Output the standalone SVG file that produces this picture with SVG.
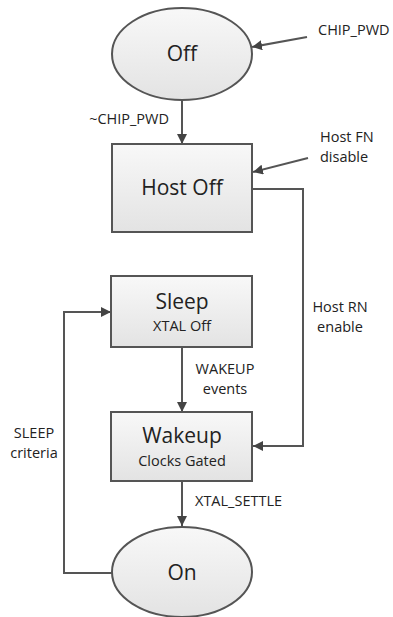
<svg xmlns="http://www.w3.org/2000/svg" width="393" height="617" viewBox="0 0 393 617">
<defs>
<linearGradient id="g" x1="0" y1="0" x2="0" y2="1">
<stop offset="0" stop-color="#f8f8f8"/>
<stop offset="1" stop-color="#e3e3e3"/>
</linearGradient>
<marker id="ah" viewBox="0 0 10 10" refX="10" refY="5" markerWidth="5" markerHeight="5" markerUnits="strokeWidth" orient="auto">
<path d="M0,0 L10,5 L0,10 z" fill="#444"/>
</marker>
</defs>
<style>
.n{fill:url(#g);stroke:#555;stroke-width:2}
.c{fill:none;stroke:#555;stroke-width:2;marker-end:url(#ah)}
.big{font-family:"Open Sans",sans-serif;font-size:21px;fill:#222;text-anchor:middle}
.sm{font-family:"Open Sans",sans-serif;font-size:14.5px;fill:#222;text-anchor:middle}
.lb{font-family:"Open Sans",sans-serif;font-size:14.5px;fill:#222}
.mid{text-anchor:middle}
.end{text-anchor:end}
</style>
<rect width="393" height="617" fill="#fff"/>
<g id="connectors">
<line class="c" x1="307" y1="37" x2="252" y2="47"/>
<line class="c" x1="182" y1="100" x2="182" y2="144"/>
<line class="c" x1="308" y1="158" x2="253" y2="172"/>
<path class="c" d="M252,189 H303 V446 H253"/>
<line class="c" x1="182" y1="347" x2="182" y2="412"/>
<line class="c" x1="182" y1="481" x2="182" y2="526"/>
<path class="c" d="M112,573 H64 V312 H111"/>
</g>
<g id="off">
<ellipse class="n" cx="182" cy="54" rx="70" ry="46"/>
<text class="big" x="182" y="61">Off</text>
</g>
<g id="hostoff">
<rect class="n" x="112" y="144" width="140" height="88"/>
<text class="big" x="182" y="195">Host Off</text>
</g>
<g id="sleep">
<rect class="n" x="111" y="276" width="141" height="71"/>
<text class="big" x="182" y="309">Sleep</text>
<text class="sm" x="182" y="331">XTAL Off</text>
</g>
<g id="wakeup">
<rect class="n" x="111" y="412" width="141" height="69"/>
<text class="big" x="182" y="443">Wakeup</text>
<text class="sm" x="182" y="466">Clocks Gated</text>
</g>
<g id="on">
<ellipse class="n" cx="182" cy="572" rx="70" ry="45"/>
<text class="big" x="182" y="580">On</text>
</g>
<g id="labels">
<text class="lb" x="318" y="35">CHIP_PWD</text>
<text class="lb end" x="169" y="124">~CHIP_PWD</text>
<text class="lb" x="320" y="142">Host FN</text>
<text class="lb" x="320" y="162">disable</text>
<text class="lb mid" x="340" y="312">Host RN</text>
<text class="lb mid" x="340" y="332">enable</text>
<text class="lb mid" x="225" y="374">WAKEUP</text>
<text class="lb mid" x="225" y="394">events</text>
<text class="lb" x="195" y="506">XTAL_SETTLE</text>
<text class="lb mid" x="34" y="438">SLEEP</text>
<text class="lb mid" x="34" y="458">criteria</text>
</g>
</svg>
